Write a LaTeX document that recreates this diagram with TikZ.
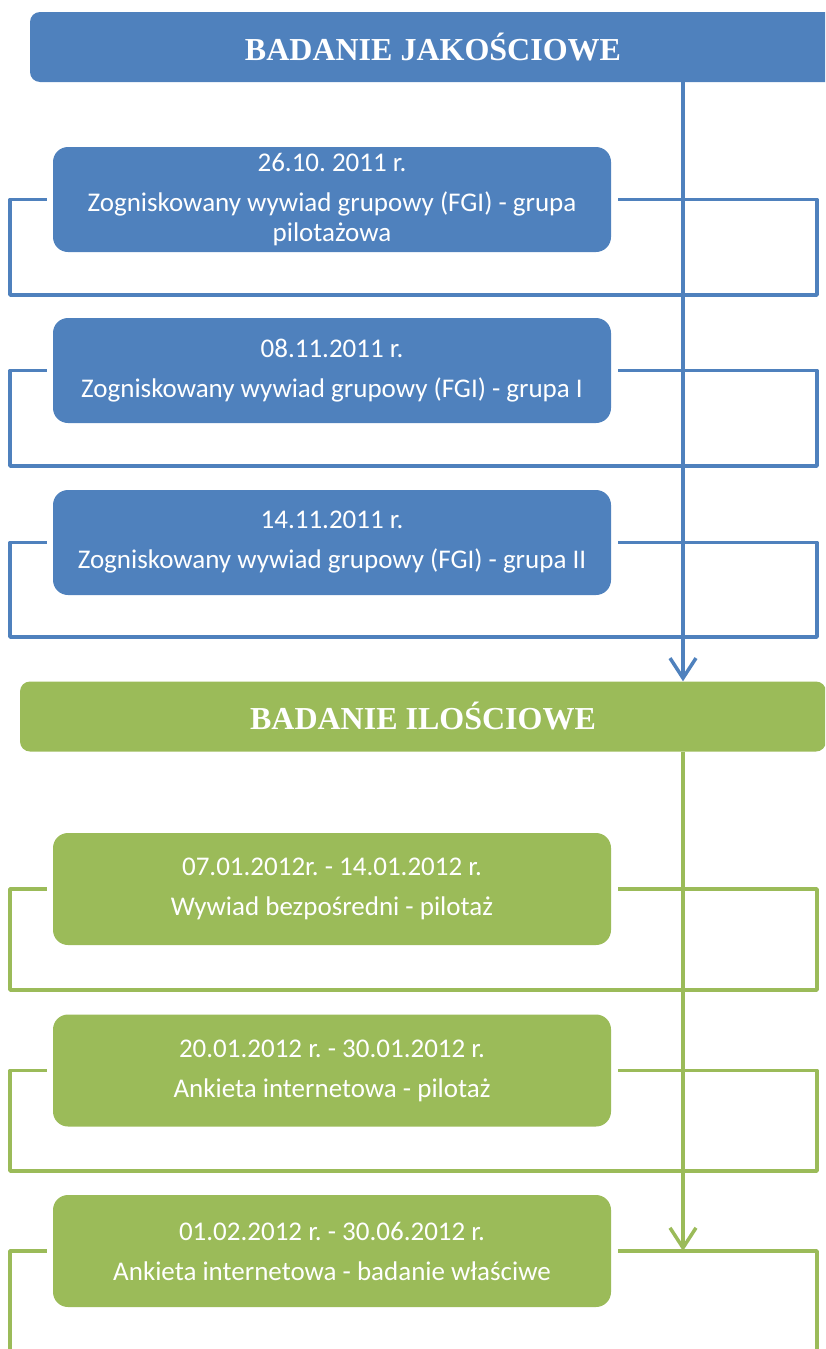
\documentclass[tikz,border=0pt]{standalone}
\usepackage{fontspec}
\setmainfont{Carlito}
\newfontfamily\headfont{Liberation Serif}
\usetikzlibrary{arrows.meta}
\frenchspacing

\definecolor{jakblue}{HTML}{4F81BD}
\definecolor{ilgreen}{HTML}{9BBB59}

\tikzset{
  headbox/.style={fill=#1,rounded corners=10pt,inner sep=0pt,minimum width=806pt,minimum height=70pt,
    text=white,font=\headfont\bfseries\fontsize{32}{36}\selectfont},
  stagebox/.style={fill=#1,rounded corners=15pt,inner sep=0pt,minimum width=558pt,align=center,
    text=white,font=\fontsize{27}{30}\selectfont},
  loopline/.style={draw=#1,line width=3.5pt,line join=round},
  spineline/.style={draw=#1,line width=3.5pt,-{Straight Barb[length=20pt,width=26pt,line width=3.5pt]}},
}

\begin{document}
\begin{tikzpicture}[x=1pt,y=-1pt]
\useasboundingbox (0,0) rectangle (825,1349);
\clip (0,0) rectangle (825,1349);
\coordinate (spine) at (683,0);

% badanie jakosciowe
\node[headbox=jakblue] (jak) at (433,47) {BADANIE JAKOŚCIOWE};
\node[stagebox=jakblue,minimum height=105pt] (fgi0) at (332,199.5) {26.10. 2011 r.\\[10pt]Zogniskowany wywiad grupowy (FGI) - grupa\\pilotażowa};
\node[stagebox=jakblue,minimum height=105pt] (fgi1) at (332,370.5) {08.11.2011 r.\\[10pt]Zogniskowany wywiad grupowy (FGI) - grupa I};
\node[stagebox=jakblue,minimum height=105pt] (fgi2) at (332,542.5) {14.11.2011 r.\\[10pt]Zogniskowany wywiad grupowy (FGI) - grupa II};
\draw[loopline=jakblue] ([xshift=-6pt]fgi0.west) -| (10,295) -| (817,199.5) -- ([xshift=7pt]fgi0.east);
\draw[loopline=jakblue] ([xshift=-6pt]fgi1.west) -| (10,466) -| (817,370.5) -- ([xshift=7pt]fgi1.east);
\draw[loopline=jakblue] ([xshift=-6pt]fgi2.west) -| (10,637) -| (817,542.5) -- ([xshift=7pt]fgi2.east);

% badanie ilosciowe
\node[headbox=ilgreen] (ilo) at (423,716.5) {BADANIE ILOŚCIOWE};
\draw[spineline=jakblue] (jak.south -| spine) -- (ilo.north -| spine);
\node[stagebox=ilgreen,minimum height=112pt] (wyw) at (332,889) {07.01.2012r. - 14.01.2012 r.\\[10pt]Wywiad bezpośredni - pilotaż};
\node[stagebox=ilgreen,minimum height=112pt] (ank) at (332,1070.5) {20.01.2012 r. - 30.01.2012 r.\\[10pt]Ankieta internetowa - pilotaż};
\node[stagebox=ilgreen,minimum height=112pt] (wla) at (332,1251) {01.02.2012 r. - 30.06.2012 r.\\[10pt]Ankieta internetowa - badanie właściwe};
\draw[loopline=ilgreen] ([xshift=-6pt]wyw.west) -| (10,990) -| (817,889) -- ([xshift=7pt]wyw.east);
\draw[loopline=ilgreen] ([xshift=-6pt]ank.west) -| (10,1171) -| (817,1070.5) -- ([xshift=7pt]ank.east);
\draw[loopline=ilgreen] ([xshift=-6pt]wla.west) -| (10,1380) -| (817,1251) -- ([xshift=7pt]wla.east);
\draw[spineline=ilgreen] (ilo.south -| spine) -- (wla.east -| spine);
\end{tikzpicture}
\end{document}
